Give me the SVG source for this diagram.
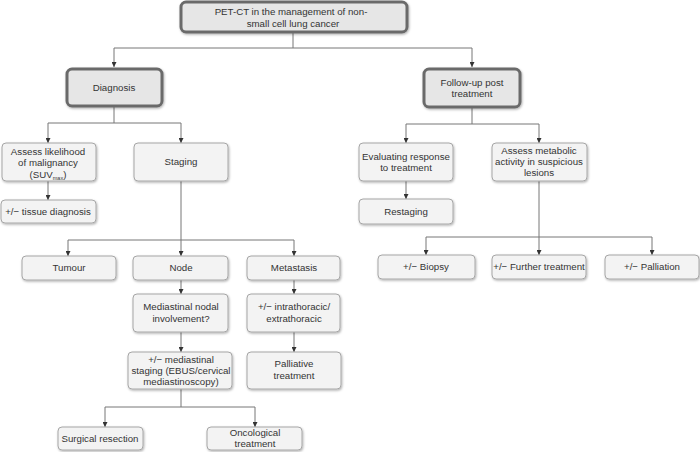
<svg xmlns="http://www.w3.org/2000/svg" width="700" height="452" viewBox="0 0 700 452">
<defs>
<marker id="ar" viewBox="0 0 6 6" refX="6" refY="3" markerWidth="5" markerHeight="5" orient="auto" markerUnits="userSpaceOnUse">
<path d="M0,0 L6,3 L0,6 z" fill="#333"/>
</marker>
<filter id="sh" x="-10%" y="-10%" width="130%" height="140%">
<feDropShadow dx="0.8" dy="1.2" stdDeviation="0.8" flood-color="#000" flood-opacity="0.3"/>
</filter>
</defs>
<style>
.b{fill:#f3f3f3;stroke:#a6a6a6;stroke-width:1;filter:url(#sh)}
.m{fill:#e6e6e6;stroke:#6b6b6b;stroke-width:3;filter:url(#sh)}
text{font-family:"Liberation Sans",Arial,sans-serif;font-size:9.7px;fill:#333;text-anchor:middle}
.c path{fill:none;stroke:#777;stroke-width:1}
.c path.a{marker-end:url(#ar)}
</style>
<rect width="700" height="452" fill="#fff"/>
<g class="c" id="connectors">
<path d="M293,32 V48 M114,48 H472"/>
<path class="a" d="M114,48 V67"/>
<path class="a" d="M472,48 V67"/>
<path d="M114,106 V123 M48,123 H181"/>
<path class="a" d="M48,123 V143"/>
<path class="a" d="M181,123 V143"/>
<path class="a" d="M48,181 V200"/>
<path d="M181,181 V240 M68,240 H294"/>
<path class="a" d="M68,240 V256"/>
<path class="a" d="M181,240 V256"/>
<path class="a" d="M294,240 V256"/>
<path class="a" d="M181,280 V294"/>
<path class="a" d="M294,280 V294"/>
<path class="a" d="M181,332 V352"/>
<path class="a" d="M294,332 V352"/>
<path d="M181,389 V407 M105,407 H255"/>
<path class="a" d="M105,407 V427"/>
<path class="a" d="M255,407 V427"/>
<path d="M472,107 V124 M406,124 H539"/>
<path class="a" d="M406,124 V143"/>
<path class="a" d="M539,124 V143"/>
<path class="a" d="M406,181 V199"/>
<path d="M539,181 V237 M426,237 H652"/>
<path class="a" d="M426,237 V255"/>
<path class="a" d="M539,237 V255"/>
<path class="a" d="M652,237 V255"/>
</g>
<g id="root"><rect class="m" x="181" y="2" width="226" height="30" rx="5"/>
<text x="291" y="15">PET-CT in the management of non-</text>
<text x="293" y="27">small cell lung cancer</text></g>
<g id="diagnosis"><rect class="m" x="67" y="69" width="95" height="37" rx="5"/>
<text x="114" y="91">Diagnosis</text></g>
<g id="followup"><rect class="m" x="424" y="69" width="96" height="38" rx="5"/>
<text x="472" y="86">Follow-up post</text><text x="472" y="97">treatment</text></g>
<g id="assess"><rect class="b" x="2" y="143" width="94" height="38" rx="4"/>
<text x="48" y="155">Assess likelihood</text><text x="48" y="166">of malignancy</text>
<text x="48" y="178">(SUV<tspan font-size="5.5" dy="1.5">max</tspan><tspan dy="-1.5">)</tspan></text></g>
<g id="staging"><rect class="b" x="134" y="143" width="94" height="38" rx="4"/>
<text x="181" y="165">Staging</text></g>
<g id="tissue"><rect class="b" x="1" y="200" width="95" height="23" rx="4"/>
<text x="48" y="215">+/− tissue diagnosis</text></g>
<g id="tumour"><rect class="b" x="22" y="256" width="94" height="24" rx="4"/>
<text x="69" y="271">Tumour</text></g>
<g id="node"><rect class="b" x="133" y="256" width="95" height="24" rx="4"/>
<text x="181" y="271">Node</text></g>
<g id="metastasis"><rect class="b" x="247" y="256" width="93" height="24" rx="4"/>
<text x="294" y="271">Metastasis</text></g>
<g id="mediastinal"><rect class="b" x="133" y="294" width="95" height="38" rx="4"/>
<text x="181" y="310">Mediastinal nodal</text><text x="181" y="322">involvement?</text></g>
<g id="intrathoracic"><rect class="b" x="247" y="294" width="93" height="38" rx="4"/>
<text x="294" y="310">+/− intrathoracic/</text><text x="294" y="322">extrathoracic</text></g>
<g id="medstaging"><rect class="b" x="128" y="352" width="104" height="37" rx="4"/>
<text x="181" y="363">+/− mediastinal</text><text x="181" y="374">staging (EBUS/cervical</text><text x="181" y="385">mediastinoscopy)</text></g>
<g id="palliative"><rect class="b" x="247" y="352" width="94" height="37" rx="4"/>
<text x="294" y="367">Palliative</text><text x="294" y="379">treatment</text></g>
<g id="surgical"><rect class="b" x="58" y="427" width="85" height="23" rx="4"/>
<text x="100" y="442">Surgical resection</text></g>
<g id="oncological"><rect class="b" x="207" y="427" width="95" height="23" rx="4"/>
<text x="255" y="436">Oncological</text><text x="255" y="447">treatment</text></g>
<g id="evaluating"><rect class="b" x="359" y="143" width="94" height="38" rx="4"/>
<text x="406" y="160">Evaluating response</text><text x="406" y="171">to treatment</text></g>
<g id="metabolic"><rect class="b" x="492" y="143" width="95" height="38" rx="4"/>
<text x="539" y="154">Assess metabolic</text><text x="539" y="165">activity in suspicious</text><text x="539" y="176">lesions</text></g>
<g id="restaging"><rect class="b" x="359" y="199" width="94" height="25" rx="4"/>
<text x="406" y="215">Restaging</text></g>
<g id="biopsy"><rect class="b" x="378" y="255" width="97" height="24" rx="4"/>
<text x="426" y="270">+/− Biopsy</text></g>
<g id="further"><rect class="b" x="492" y="255" width="94" height="24" rx="4"/>
<text x="539" y="270">+/− Further treatment</text></g>
<g id="palliation"><rect class="b" x="605" y="255" width="94" height="24" rx="4"/>
<text x="652" y="270">+/− Palliation</text></g>
</svg>
